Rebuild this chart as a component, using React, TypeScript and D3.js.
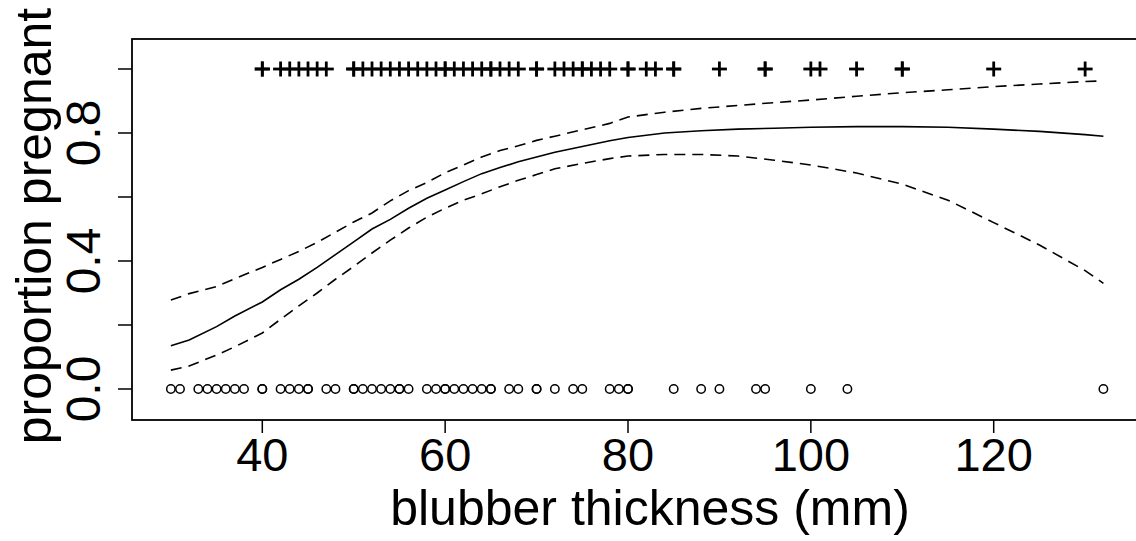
import React from "react";
import * as d3 from "d3";

// fitted curve and 95% band
const curveX = [30, 32, 35, 37, 40, 42, 44, 46, 48, 50, 52, 54, 56, 58, 60, 62, 64, 66, 68, 70, 72, 75, 78, 80, 84, 88, 92, 96, 100, 105, 110, 115, 120, 125, 130, 132];
const fitP = [0.135, 0.153, 0.195, 0.228, 0.272, 0.31, 0.343, 0.38, 0.42, 0.46, 0.5, 0.53, 0.565, 0.596, 0.622, 0.648, 0.673, 0.692, 0.71, 0.725, 0.74, 0.758, 0.776, 0.786, 0.8, 0.807, 0.812, 0.815, 0.818, 0.82, 0.82, 0.818, 0.812, 0.805, 0.795, 0.79];
const upperP = [0.278, 0.298, 0.32, 0.345, 0.38, 0.405, 0.43, 0.458, 0.49, 0.522, 0.55, 0.588, 0.62, 0.645, 0.676, 0.7, 0.725, 0.745, 0.76, 0.777, 0.79, 0.81, 0.83, 0.85, 0.865, 0.877, 0.886, 0.895, 0.903, 0.915, 0.926, 0.935, 0.945, 0.953, 0.961, 0.963];
const lowerP = [0.059, 0.072, 0.106, 0.132, 0.175, 0.218, 0.26, 0.3, 0.343, 0.383, 0.425, 0.465, 0.503, 0.537, 0.565, 0.59, 0.61, 0.632, 0.652, 0.67, 0.688, 0.705, 0.72, 0.728, 0.733, 0.733, 0.728, 0.715, 0.7, 0.675, 0.64, 0.59, 0.52, 0.45, 0.37, 0.33];

// observations: pregnant (1) and not pregnant (0)
const pregnantX = [40, 40, 42, 43, 44, 45, 46, 47, 50, 50, 51, 52, 53, 54, 55, 56, 57, 58, 59, 60, 60, 61, 62, 63, 64, 65, 65, 66, 67, 68, 70, 70, 72, 73, 74, 75, 75, 76, 77, 78, 80, 80, 82, 83, 85, 85, 90, 95, 95, 100, 101, 105, 110, 110, 120, 130];
const notPregnantX = [30, 31, 33, 34, 35, 36, 37, 38, 40, 40, 42, 43, 44, 45, 45, 47, 48, 50, 50, 51, 52, 53, 54, 55, 55, 56, 58, 59, 60, 60, 61, 62, 63, 64, 65, 65, 67, 68, 70, 70, 72, 74, 75, 78, 79, 80, 80, 85, 88, 90, 94, 95, 100, 104, 132];

const xTicks = [40, 60, 80, 100, 120];
const yTicks = [0, 0.2, 0.4, 0.6, 0.8, 1.0];
const yLabelled = ["0.0", "0.4", "0.8"];

export default function App() {
  const width = 1136, height = 541;
  const left = 132, right = 1168, top = 39, bottom = 420;

  const x = d3.scaleLinear().domain([40, 120]).range([262.3, 993.7]);
  const y = d3.scaleLinear().domain([0, 1]).range([389, 69]);

  const line = (vals: number[]) =>
    d3.line<number>().x((_, i) => x(curveX[i])).y((v) => y(v))(vals) || "";

  const font = "Liberation Sans, Arial, sans-serif";

  return (
    <svg width={width} height={height} style={{ position: "absolute", left: 0, top: 0, background: "#fff" }}>
      <rect x={left} y={top} width={right - left} height={bottom - top} fill="none" stroke="#000" strokeWidth={1.8} />

      {xTicks.map((t) => (
        <g key={"x" + t}>
          <line x1={x(t)} x2={x(t)} y1={bottom} y2={bottom + 13} stroke="#000" strokeWidth={1.5} />
          <text x={x(t)} y={471} textAnchor="middle" fontFamily={font} fontSize={47}>{t}</text>
        </g>
      ))}

      {yTicks.map((t) => {
        const lab = t.toFixed(1);
        return (
          <g key={"y" + t}>
            <line x1={left} x2={left - 14} y1={y(t)} y2={y(t)} stroke="#000" strokeWidth={1.5} />
            {yLabelled.includes(lab) && (
              <text transform={`translate(100,${y(t)}) rotate(-90)`} textAnchor="middle" fontFamily={font} fontSize={48}>{lab}</text>
            )}
          </g>
        );
      })}

      <text x={650} y={525} textAnchor="middle" fontFamily={font} fontSize={50}>blubber thickness (mm)</text>
      <text transform={`translate(51,226) rotate(-90)`} textAnchor="middle" fontFamily={font} fontSize={50}>proportion pregnant</text>

      <path d={line(fitP)} fill="none" stroke="#000" strokeWidth={1.6} />
      <path d={line(upperP)} fill="none" stroke="#000" strokeWidth={1.6} strokeDasharray="11,7" />
      <path d={line(lowerP)} fill="none" stroke="#000" strokeWidth={1.6} strokeDasharray="11,7" />

      {pregnantX.map((v, i) => (
        <g key={"p" + i} stroke="#000" strokeWidth={2.8}>
          <line x1={x(v) - 7.5} x2={x(v) + 7.5} y1={y(1)} y2={y(1)} />
          <line x1={x(v)} x2={x(v)} y1={y(1) - 7.5} y2={y(1) + 7.5} />
        </g>
      ))}

      {notPregnantX.map((v, i) => (
        <circle key={"n" + i} cx={x(v)} cy={y(0)} r={4.2} fill="none" stroke="#000" strokeWidth={1.5} />
      ))}
    </svg>
  );
}
